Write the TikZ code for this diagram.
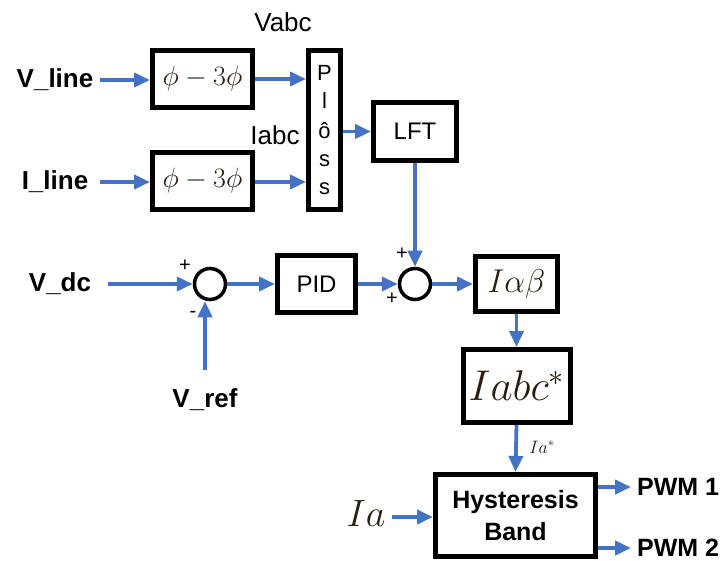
\documentclass[tikz,border=0pt]{standalone}
\usepackage{fix-cm}
\usepackage[no-math]{fontspec}
\setmainfont{Liberation Sans}
\usetikzlibrary{arrows.meta}
\definecolor{arrblue}{HTML}{4472C4}
\definecolor{mathc}{HTML}{2A1E10}
\begin{document}
\begin{tikzpicture}[x=1pt,y=-1pt,
  blk/.style={draw=black,line width=5pt,inner sep=0pt,fill=white},
  arr/.style={draw=arrblue,line width=3.8pt,-{Triangle[length=16pt,width=14pt]}},
  sumc/.style={circle,draw=black,line width=3.5pt,minimum size=31pt,inner sep=0pt},
  lbl/.style={font=\fontsize{26}{30}\selectfont\bfseries,inner sep=0pt},
  reg/.style={font=\fontsize{24}{28}\selectfont,inner sep=0pt},
  sgn/.style={font=\fontsize{20}{22}\selectfont,inner sep=0pt},
  mth/.style={text=mathc,inner sep=0pt}]
\useasboundingbox[fill=white] (0,0) rectangle (725,561);
% blocks
\node[blk,minimum width=100pt,minimum height=57pt,font=\fontsize{28}{30}\selectfont,text=mathc] (phi1) at (202.5,79) {$\phi-3\phi$};
\node[blk,minimum width=100pt,minimum height=57pt,font=\fontsize{28}{30}\selectfont,text=mathc] (phi2) at (202.5,181) {$\phi-3\phi$};
\node[blk,minimum width=32pt,minimum height=159pt] (ploss) at (324.5,130) {};
\foreach \ch/\yy in {P/73,l/101,\^o/131,s/161,s/189}
  \node[font=\fontsize{22}{24}\selectfont,inner sep=0pt] at (324.5,\yy) {\ch};
\node[blk,minimum width=83pt,minimum height=58pt,reg] (lft) at (415,131.5) {LFT};
\node[blk,minimum width=78pt,minimum height=57pt,reg] (pid) at (316.5,284) {PID};
\node[blk,minimum width=82pt,minimum height=55pt,font=\fontsize{33}{35}\selectfont,text=mathc] (iab) at (516.5,284) {$I\alpha\beta$};
\node[blk,minimum width=107pt,minimum height=73pt,font=\fontsize{43}{45}\selectfont,text=mathc] (iabc) at (516.5,386) {$Iabc^{*}$};
\node[blk,minimum width=160pt,minimum height=82pt,align=center,font=\fontsize{25}{32}\selectfont\bfseries] (hyst) at (515.5,515.5) {Hysteresis\\Band};
% sums
\node[sumc] (s1) at (210,284) {};
\node[sumc] (s2) at (415,284) {};
\node[sgn] at (185,266) {+};
\node[sgn] at (193,314) {-};
\node[sgn] at (402,254) {+};
\node[sgn] at (392,299) {+};
% labels
\node[lbl] (vline) at (55,80) {V\_line};
\node[lbl] (iline) at (55,182) {I\_line};
\node[lbl] (vdc) at (60,284) {V\_dc};
\node[lbl] (vref) at (205,400) {V\_ref};
\node[reg,font=\fontsize{26}{28}\selectfont] (vabc) at (283,22) {Vabc};
\node[reg,font=\fontsize{26}{28}\selectfont] (iabcl) at (275,135) {Iabc};
\node[mth,font=\fontsize{38}{40}\selectfont] (ia) at (366,514) {$Ia$};
\node[mth,font=\fontsize{18}{20}\selectfont] (iastar) at (542,447) {$Ia^{*}$};
\node[lbl,font=\fontsize{25}{30}\selectfont\bfseries,anchor=west] (pwm1) at (637,487) {PWM 1};
\node[lbl,font=\fontsize{25}{30}\selectfont\bfseries,anchor=west] (pwm2) at (637,548) {PWM 2};
% arrows
\draw[arr] (100,80) coordinate (a1) -- (a1 -| phi1.west);
\draw[arr] (100,182) coordinate (a2) -- (a2 -| phi2.west);
\draw[arr] (phi1.east) -- (phi1.east -| ploss.west);
\draw[arr] (phi2.east |- 0,182) coordinate (a3) -- (a3 -| ploss.west);
\draw[arr] (ploss.east |- lft.west) -- (lft.west);
\draw[arr] (lft.south) -- (s2.north);
\draw[arr] (108,284) coordinate (a4) -- (s1.west);
\draw[arr] (205,370) coordinate (a5) -- (a5 |- s1.south);
\draw[arr] (s1.east) -- (pid.west);
\draw[arr] (pid.east) -- (s2.west);
\draw[arr] (s2.east) -- (iab.west);
\draw[arr] (iab.south) -- (iabc.north);
\draw[arr] (iabc.south) -- (hyst.north);
\draw[arr] (392,517) coordinate (a6) -- (a6 -| hyst.west);
\draw[arr] (hyst.east |- 0,487) coordinate (a7) -- (631,487);
\draw[arr] (hyst.east |- 0,548) coordinate (a8) -- (631,548);
\end{tikzpicture}
\end{document}
